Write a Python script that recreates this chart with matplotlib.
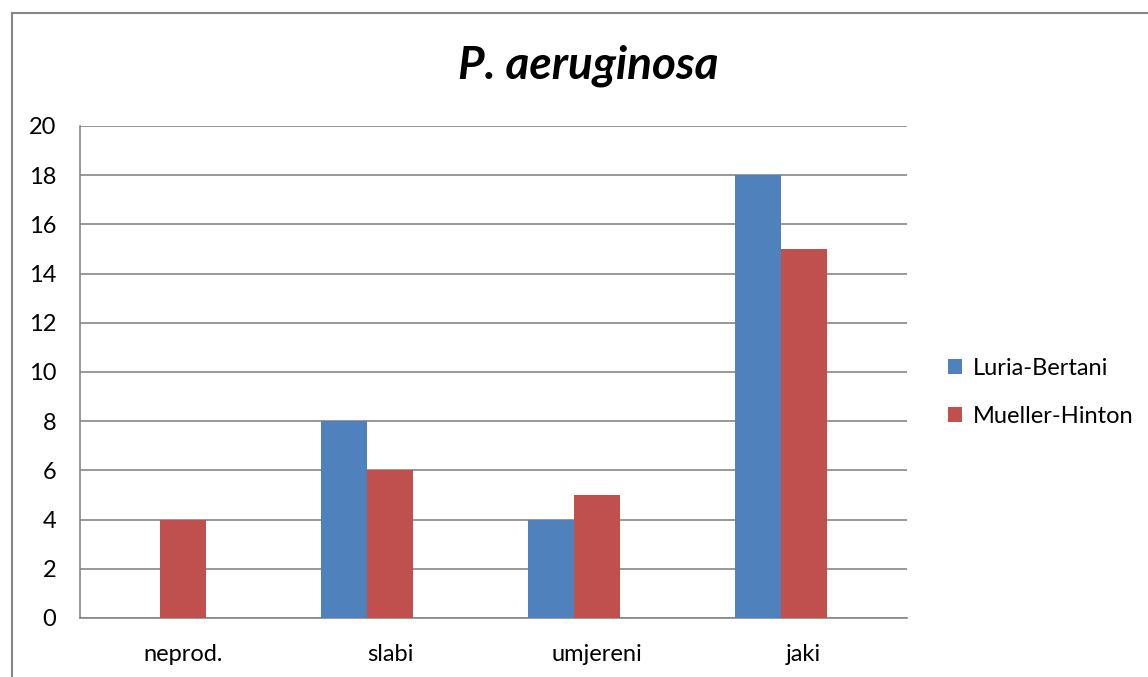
import matplotlib
matplotlib.use('Agg')
import matplotlib.pyplot as plt
from matplotlib.lines import Line2D
import numpy as np

# data
categories = ['neprod.', 'slabi', 'umjereni', 'jaki']
luria_bertani = [0, 8, 4, 18]
mueller_hinton = [4, 6, 5, 15]
series_names = ['Luria-Bertani', 'Mueller-Hinton']
colors = ['#4F81BD', '#C0504D']

plt.rcParams['font.family'] = ['Lato', 'DejaVu Sans']

fig = plt.figure(figsize=(11.48, 6.77), dpi=100)
ax = fig.add_axes([80 / 1148, 59 / 677, 827 / 1148, 492 / 677])

# excel-style grouping: slot for 3 series, gap 150%
x = np.arange(len(categories))
w = 1 / 4.5
ax.bar(x - w, luria_bertani, w, color=colors[0], label=series_names[0], zorder=3)
ax.bar(x, mueller_hinton, w, color=colors[1], label=series_names[1], zorder=3)

ax.set_xlim(-0.5, len(categories) - 0.5)
ax.set_ylim(0, 20)
ax.set_yticks(range(0, 21, 2))
ax.set_xticks(x)
ax.set_xticklabels(categories)
ax.tick_params(axis='both', length=0, labelsize=17)
ax.tick_params(axis='y', pad=17)
ax.tick_params(axis='x', pad=19)
ax.grid(axis='y', color='#868686', linewidth=1.2, zorder=0)
for side in ['top', 'right']:
    ax.spines[side].set_visible(False)
for side in ['left', 'bottom']:
    ax.spines[side].set_color('#868686')
    ax.spines[side].set_linewidth(1.2)

fig.text(588 / 1148, 1 - 66 / 677, 'P. aeruginosa', ha='center', va='center',
         fontsize=33, fontweight='bold', fontstyle='italic')

ax.legend(loc='center left', bbox_to_anchor=(1.038, 0.458), frameon=False,
          fontsize=17, handlelength=0.6, handleheight=0.6,
          handletextpad=0.45, labelspacing=1.15, borderaxespad=0)

# chart border
fig.add_artist(Line2D([12 / 1148, 12 / 1148], [0, 1 - 13 / 677],
                      color='#868686', linewidth=1.5))
fig.add_artist(Line2D([12 / 1148, 1], [1 - 13 / 677, 1 - 13 / 677],
                      color='#868686', linewidth=1.5))

plt.savefig('out.png')
